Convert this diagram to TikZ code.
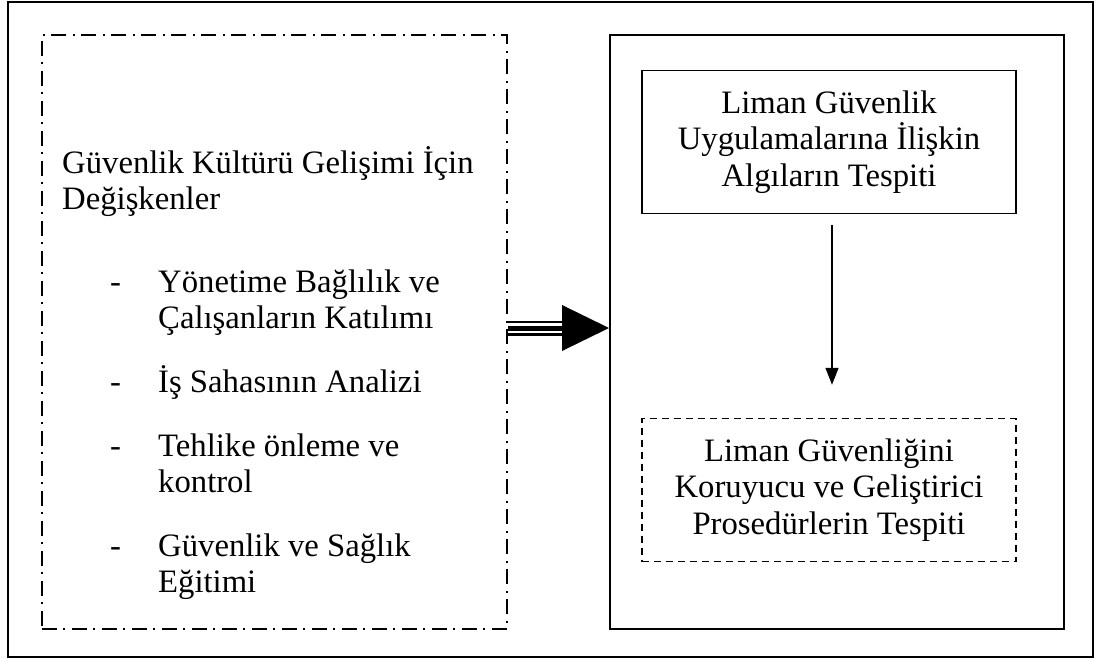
\documentclass[tikz,border=0pt]{standalone}
\usepackage{fontspec}
\setmainfont{Liberation Serif}
\usetikzlibrary{arrows.meta,calc}

\tikzset{
  body/.style={font=\fontsize{32.7}{36.6}\selectfont, inner sep=0pt},
  line/.style={body, anchor=base west},
  bullet/.style={body, anchor=base west},
  framebox/.style={draw, line width=2pt, inner sep=0pt},
  groupbox/.style={draw, line width=1.5pt, inner sep=0pt,
    dash pattern=on 15pt off 6pt on 2pt off 7pt},
  stepbox/.style={draw, line width=1.5pt, inner sep=0pt,
    minimum width=374pt, minimum height=143pt, align=center,
    font=\fontsize{32.7}{36.6}\selectfont},
}

\begin{document}
\begin{tikzpicture}[x=1pt,y=-1pt]
  \useasboundingbox (0,0) rectangle (1094,660);

  % outer frame
  \node[framebox, minimum width=1085pt, minimum height=655pt] (page) at (550.5,329.5) {};

  % left group: variables
  \node[groupbox, minimum width=465pt, minimum height=594pt] (vars) at (274.5,332) {};

  % right group: results
  \node[framebox, minimum width=454pt, minimum height=594pt] (frame) at (837,332) {};

  % text of the left group
  \node[line] (h1) at (62,174) {Güvenlik Kültürü Gelişimi İçin};
  \node[line] (h2) at (62,210) {Değişkenler};

  \node[bullet] (d1) at (110,292) {-};
  \node[line] (i1a) at (158,292) {Yönetime Bağlılık ve};
  \node[line] (i1b) at (158,328) {Çalışanların Katılımı};

  \node[bullet] (d2) at (110,392) {-};
  \node[line] (i2a) at (158,392) {İş Sahasının Analizi};

  \node[bullet] (d3) at (110,456) {-};
  \node[line] (i3a) at (158,456) {Tehlike önleme ve};
  \node[line] (i3b) at (158,492) {kontrol};

  \node[bullet] (d4) at (110,556) {-};
  \node[line] (i4a) at (158,556) {Güvenlik ve Sağlık};
  \node[line] (i4b) at (158,592) {Eğitimi};

  % boxes of the right group
  \node[stepbox] (perc) at (829,142) {Liman Güvenlik\\Uygulamalarına İlişkin\\Algıların Tespiti};
  \node[stepbox, dash pattern=on 7pt off 5pt] (proc) at (829,490) {Liman Güvenliğini\\Koruyucu ve Geliştirici\\Prosedürlerin Tespiti};

  % thin arrow between the two steps
  \draw[line width=1.5pt, -{Triangle[length=17pt,width=13pt]}, shorten <=11pt, shorten >=33pt]
    ([xshift=3pt]perc.south) -- ([xshift=3pt]proc.north);

  % triple-lined block arrow from the left group to the right group
  \coordinate (a0) at ([yshift=4pt]vars.east);
  \coordinate (a1) at ([yshift=4pt]frame.west);
  \coordinate (ah) at ($(a1)+(-47,0)$);
  \draw[line width=15pt] (a0) -- (ah);
  \draw[line width=10pt, white] (a0) -- (ah);
  \draw[line width=5pt] (a0) -- (ah);
  \fill ($(ah)+(0,-23)$) -- (a1) -- ($(ah)+(0,23)$) -- cycle;
\end{tikzpicture}
\end{document}
